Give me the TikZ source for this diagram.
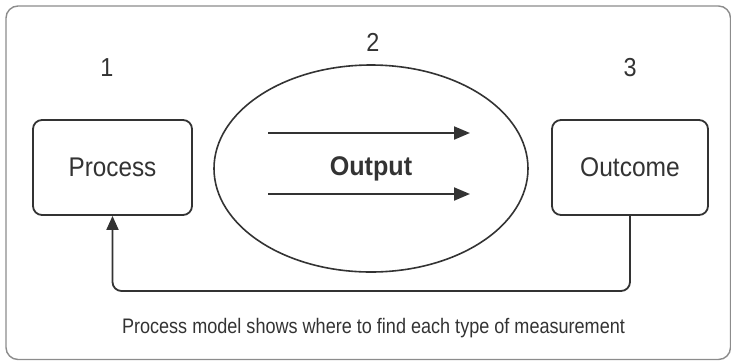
\documentclass[tikz,border=0pt]{standalone}
\usepackage{fontspec}
\setmainfont{Liberation Sans}
\usetikzlibrary{arrows.meta,shapes.geometric}
\definecolor{ink}{HTML}{333333}
\definecolor{framegray}{HTML}{8C8C8C}
\begin{document}
\begin{tikzpicture}[x=1pt,y=-1pt,
  frame/.style={draw=framegray,line width=1.4pt,rounded corners=12pt},
  stagebox/.style={draw=ink,line width=1.8pt,rectangle,rounded corners=9pt,
    inner sep=0pt,text=ink,font=\fontsize{27}{30}\selectfont},
  stageoval/.style={draw=ink,line width=1.6pt,ellipse,inner sep=0pt,
    text=ink,font=\fontsize{27}{30}\selectfont\bfseries},
  stagenum/.style={text=ink,inner sep=0pt,font=\fontsize{26}{28}\selectfont},
  caption/.style={text=ink,inner sep=0pt,font=\fontsize{21}{24}\selectfont},
  flow/.style={draw=ink,line width=2pt,-{Triangle[length=16pt,width=13pt]}},
  loop/.style={draw=ink,line width=1.8pt,rounded corners=9pt,
    -{Triangle[length=14pt,width=12pt]}}]
\useasboundingbox (0,0) rectangle (731,360);
% outer frame, its right and bottom edges running to the page edge
\begin{scope}
  \clip (0,0) rectangle (731,360);
  \draw[frame] (6,6) rectangle (730.5,359.5);
\end{scope}

% the three stages
\node[stagebox,minimum width=159pt,minimum height=95pt] (process) at (112.5,167.5)
  {\scalebox{0.9}[1]{Process}};
\node[stageoval,minimum width=314pt,minimum height=207pt] (output) at (371,168.5)
  {\scalebox{0.93}[1]{Output}};
\node[stagebox,minimum width=156pt,minimum height=95pt] (outcome) at (630,167.5)
  {\scalebox{0.91}[1]{Outcome}};

% stage numbers
\node[stagenum] (n1) at (107,68) {\scalebox{0.9}[1]{1}};
\node[stagenum] (n2) at (373,42) {\scalebox{0.9}[1]{2}};
\node[stagenum] (n3) at (630,68) {\scalebox{0.9}[1]{3}};

% flow arrows inside the output stage
\coordinate (f1s) at (268,133);
\coordinate (f1e) at (470,133);
\coordinate (f2s) at (268,194);
\coordinate (f2e) at (470,194);
\draw[flow] (f1s) -- (f1e);
\draw[flow] (f2s) -- (f2e);

% feedback loop from outcome back to process
\coordinate (loopbase) at (0,291);
\draw[loop] (outcome.south) -- (outcome.south |- loopbase) -| (process.south);

% caption
\node[caption] (cap) at (373.5,328)
  {\scalebox{0.86}[1]{Process model shows where to find each type of measurement}};
\end{tikzpicture}
\end{document}
